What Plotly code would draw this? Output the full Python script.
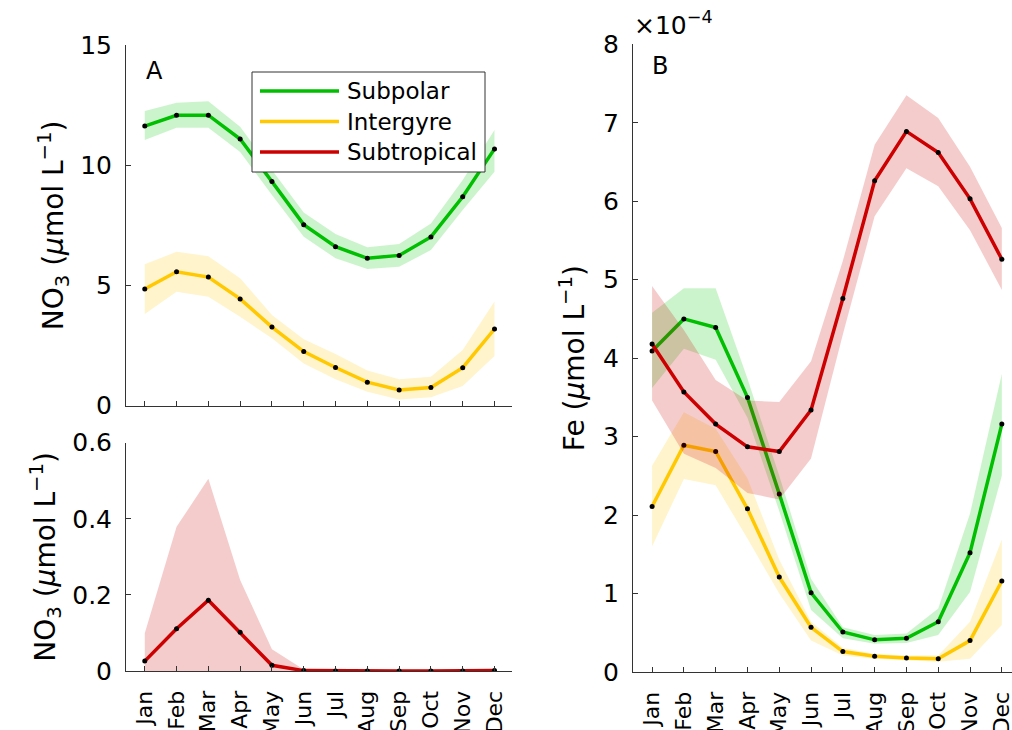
import plotly.graph_objects as go

# ---------------- data ----------------
months = ["Jan", "Feb", "Mar", "Apr", "May", "Jun", "Jul", "Aug", "Sep", "Oct", "Nov", "Dec"]
month_idx = list(range(1, 13))
series_names = ["Subpolar", "Intergyre", "Subtropical"]

# Panel A (top): NO3, umol/L
no3_subpolar = [11.63, 12.08, 12.08, 11.09, 9.32, 7.53, 6.61, 6.13, 6.25, 7.02, 8.69, 10.68]
no3_subpolar_hi = [12.26, 12.60, 12.66, 11.60, 9.80, 8.03, 7.14, 6.59, 6.72, 7.58, 9.39, 11.47]
no3_subpolar_lo = [11.05, 11.56, 11.56, 10.55, 8.76, 7.03, 6.13, 5.68, 5.78, 6.47, 8.14, 9.73]

no3_intergyre = [4.85, 5.57, 5.35, 4.44, 3.27, 2.25, 1.59, 0.98, 0.65, 0.76, 1.58, 3.19]
no3_intergyre_hi = [5.88, 6.40, 6.22, 5.30, 3.77, 2.76, 2.15, 1.46, 1.10, 1.20, 2.32, 4.33]
no3_intergyre_lo = [3.81, 4.74, 4.53, 3.70, 2.80, 1.76, 1.10, 0.58, 0.26, 0.35, 0.82, 2.07]

# Panel A (bottom): NO3 subtropical, umol/L
no3_subtropical = [0.026, 0.111, 0.186, 0.102, 0.015, 0.001, 0.0, 0.0, 0.0, 0.0, 0.0, 0.001]
no3_subtropical_hi = [0.099, 0.379, 0.505, 0.239, 0.057, 0.004, 0.002, 0.002, 0.002, 0.002, 0.003, 0.005]
no3_subtropical_lo = [0.0, 0.0, 0.0, 0.0, 0.0, 0.0, 0.0, 0.0, 0.0, 0.0, 0.0, 0.0]

# Panel B: Fe, in units of 1e-4 umol/L
fe_scale = 1e-4
fe_subpolar = [4.09, 4.50, 4.39, 3.50, 2.27, 1.01, 0.51, 0.41, 0.43, 0.64, 1.52, 3.16]
fe_subpolar_hi = [4.58, 4.89, 4.89, 3.74, 2.50, 1.19, 0.57, 0.47, 0.49, 0.81, 2.02, 3.80]
fe_subpolar_lo = [3.62, 4.12, 3.98, 3.24, 2.05, 0.79, 0.43, 0.36, 0.37, 0.47, 1.02, 2.50]

fe_intergyre = [2.11, 2.89, 2.81, 2.08, 1.21, 0.57, 0.26, 0.20, 0.18, 0.17, 0.40, 1.16]
fe_intergyre_hi = [2.63, 3.31, 3.10, 2.47, 1.43, 0.64, 0.31, 0.23, 0.21, 0.21, 0.64, 1.69]
fe_intergyre_lo = [1.60, 2.46, 2.38, 1.70, 1.00, 0.40, 0.21, 0.17, 0.15, 0.13, 0.17, 0.60]

fe_subtropical = [4.18, 3.57, 3.16, 2.87, 2.81, 3.34, 4.76, 6.26, 6.89, 6.62, 6.03, 5.26]
fe_subtropical_hi = [4.92, 4.36, 3.72, 3.46, 3.44, 3.96, 5.24, 6.72, 7.35, 7.06, 6.44, 5.66]
fe_subtropical_lo = [3.46, 2.78, 2.60, 2.28, 2.20, 2.72, 4.30, 5.81, 6.42, 6.19, 5.63, 4.87]

no3_ticks = [0, 5, 10, 15]
no3_low_ticks = [0, 0.2, 0.4, 0.6]
fe_ticks = [0, 1, 2, 3, 4, 5, 6, 7, 8]

# ---------------- styles ----------------
line_colors = {"Subpolar": "rgb(0,190,0)", "Intergyre": "rgb(255,200,0)", "Subtropical": "rgb(204,0,0)"}
band_colors = {"Subpolar": "rgba(0,200,0,0.2)", "Intergyre": "rgba(255,200,0,0.2)", "Subtropical": "rgba(204,0,0,0.2)"}
FONT = "DejaVu Sans"
AX_COL = "#333333"
W, H = 1012, 730

fig = go.Figure()


def add_series(name, mean, hi, lo, xa, ya, scale=1.0):
    xs = month_idx + month_idx[::-1]
    ys = [v * scale for v in hi] + [v * scale for v in lo[::-1]]
    fig.add_trace(go.Scatter(x=xs, y=ys, fill="toself", fillcolor=band_colors[name],
                             line=dict(width=0), mode="lines", hoverinfo="skip",
                             showlegend=False, xaxis=xa, yaxis=ya))
    yv = [v * scale for v in mean]
    fig.add_trace(go.Scatter(x=month_idx, y=yv, name=name, mode="lines",
                             line=dict(color=line_colors[name], width=3.5),
                             showlegend=False, xaxis=xa, yaxis=ya))
    fig.add_trace(go.Scatter(x=month_idx, y=yv, name=name, mode="markers",
                             marker=dict(color="black", size=5),
                             showlegend=False, xaxis=xa, yaxis=ya))


# left panels
add_series("Subpolar", no3_subpolar, no3_subpolar_hi, no3_subpolar_lo, "x", "y")
add_series("Intergyre", no3_intergyre, no3_intergyre_hi, no3_intergyre_lo, "x", "y")
add_series("Subtropical", no3_subtropical, no3_subtropical_hi, no3_subtropical_lo, "x2", "y2")

# right panel
add_series("Subpolar", fe_subpolar, fe_subpolar_hi, fe_subpolar_lo, "x3", "y3", scale=fe_scale)
add_series("Intergyre", fe_intergyre, fe_intergyre_hi, fe_intergyre_lo, "x3", "y3", scale=fe_scale)
add_series("Subtropical", fe_subtropical, fe_subtropical_hi, fe_subtropical_lo, "x3", "y3", scale=fe_scale)


def xd(a, b):
    return [a / W, b / W]


def yd(top, bottom):
    return [1 - bottom / H, 1 - top / H]


common_x = dict(tickmode="array", tickvals=month_idx, ticktext=months, ticks="inside", ticklen=5,
                tickcolor=AX_COL, showline=True, linecolor=AX_COL, linewidth=1, showgrid=False,
                zeroline=False, tickangle=-90, ticklabelstandoff=10, ticklabeloverflow="allow",
                automargin=False, tickfont=dict(family=FONT, size=22, color="black"))
common_y = dict(ticks="inside", ticklen=5, tickcolor=AX_COL, showline=True, linecolor=AX_COL,
                linewidth=1, showgrid=False, zeroline=False, automargin=False,
                tickfont=dict(family=FONT, size=25, color="black"), ticklabelstandoff=8)

no3_title = "NO<sub>3</sub> (<i>μ</i>mol L<sup>−1</sup>)"
fe_title = "Fe (<i>μ</i>mol L<sup>−1</sup>)"
title_font = dict(family=FONT, size=28, color="black")

# legend box (drawn as layout decoration, entries from series_names)
leg_x0, leg_x1, leg_y0, leg_row_h = 252, 485, 72, 30.5
shapes = [dict(type="rect", xref="paper", yref="paper",
               x0=leg_x0 / W, x1=leg_x1 / W, y0=1 - leg_y0 / H, y1=1 - (leg_y0 + 100) / H,
               line=dict(color=AX_COL, width=1), fillcolor="white", layer="above")]
annotations = []
for i, nm in enumerate(series_names):
    yc = leg_y0 + 19 + i * leg_row_h
    shapes.append(dict(type="line", xref="paper", yref="paper", x0=260 / W, x1=339 / W,
                       y0=1 - yc / H, y1=1 - yc / H, layer="above",
                       line=dict(color=line_colors[nm], width=3.5)))
    annotations.append(dict(text=nm, x=345 / W, y=1 - yc / H, xref="paper", yref="paper",
                            xanchor="left", yanchor="middle", showarrow=False,
                            font=dict(family=FONT, size=23, color="black")))

annotations += [
    dict(text="A", x=144 / W, y=1 - 55 / H, xref="paper", yref="paper", xanchor="left",
         yanchor="top", showarrow=False, font=dict(family=FONT, size=24)),
    dict(text="B", x=650 / W, y=1 - 50 / H, xref="paper", yref="paper", xanchor="left",
         yanchor="top", showarrow=False, font=dict(family=FONT, size=24)),
    dict(text="×10<sup>−4</sup>", x=632 / W, y=1 - 42 / H, xref="paper", yref="paper",
         xanchor="left", yanchor="bottom", showarrow=False, font=dict(family=FONT, size=25)),
]

fig.update_layout(
    width=W, height=H, margin=dict(l=0, r=0, t=0, b=0, autoexpand=False),
    paper_bgcolor="white", plot_bgcolor="white",
    font=dict(family=FONT, color="black"),
    showlegend=False,
    xaxis=dict(domain=xd(126, 512), range=[0.41, 12.55], anchor="y", showticklabels=False, **common_x),
    yaxis=dict(domain=yd(45, 405.7), range=[0, 15], tickvals=no3_ticks, anchor="x",
               title=dict(text=no3_title, font=title_font, standoff=8), **common_y),
    xaxis2=dict(domain=xd(126, 512), range=[0.41, 12.55], anchor="y2", **common_x),
    yaxis2=dict(domain=yd(442.7, 671), range=[0, 0.6], tickvals=no3_low_ticks,
                ticktext=[f"{v:g}" for v in no3_low_ticks], anchor="x2",
                title=dict(text=no3_title, font=title_font, standoff=8), **common_y),
    xaxis3=dict(domain=xd(633, 1012), range=[0.4, 12.32], anchor="y3", **common_x),
    yaxis3=dict(domain=yd(44.3, 672), range=[0, 8 * fe_scale], tickvals=[t * fe_scale for t in fe_ticks],
                ticktext=[str(t) for t in fe_ticks], anchor="x3",
                title=dict(text=fe_title, font=title_font, standoff=10), **common_y),
    shapes=shapes,
    annotations=annotations,
)

fig.write_html("out.html")
